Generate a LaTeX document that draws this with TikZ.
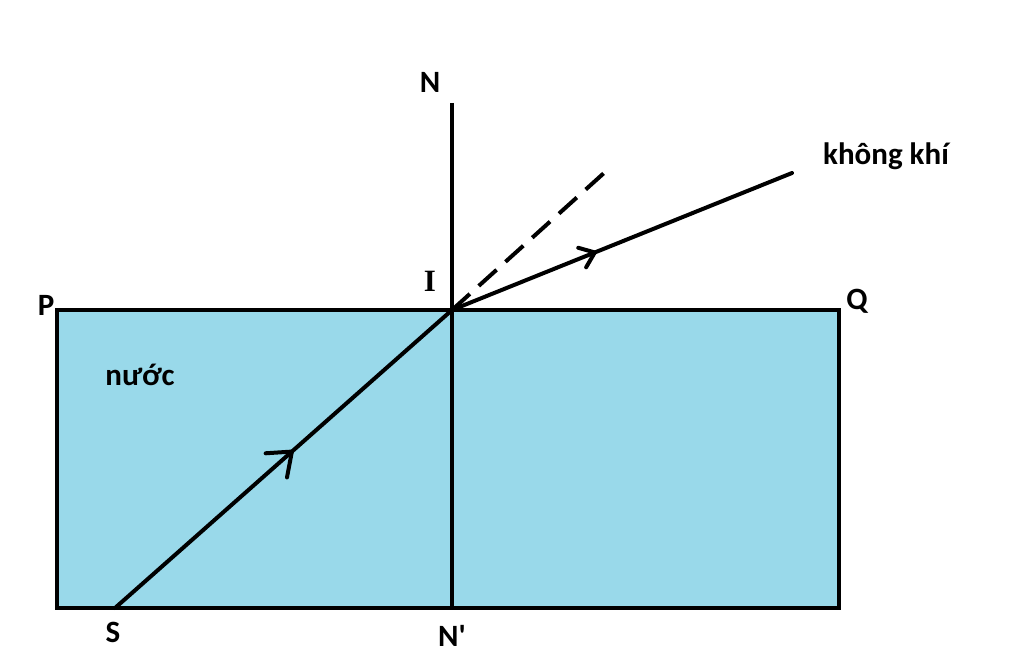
\documentclass[tikz,border=0pt]{standalone}
\usepackage{fontspec}
\setmainfont{Carlito}[Ligatures=TeXOff]
\newfontfamily\serifb{Liberation Serif}
\usetikzlibrary{decorations.markings}
\definecolor{water}{RGB}{153,217,234}
\tikzset{
  thick line/.style={line width=4pt, line cap=round},
  lbl/.style={font=\fontsize{31}{34}\selectfont\bfseries, inner sep=0pt},
  chevron/.style 2 args={postaction={decorate}, decoration={markings,
    mark=at position #1 with {\draw[line width=4pt, line cap=round, line join=miter]
      (-#2*0.8pt,#2*0.62pt) -- (0,0) -- (-#2*0.8pt,-#2*0.62pt);}}}
}
\begin{document}
\begin{tikzpicture}[x=1pt,y=-1pt]
\useasboundingbox (0,0) rectangle (1024,655);
% water
\coordinate (P0) at (57,310);
\coordinate (Q0) at (839,608);
\filldraw[fill=water, line width=4pt] (P0) rectangle (Q0);
% points
\coordinate (I) at (452,310);
\coordinate (Ntop) at (452,103);
\coordinate (Nbot) at (452,608);
\coordinate (S) at (115,608);
\coordinate (R) at (792,173);
\coordinate (D) at (604,173);
% normal
\draw[line width=4pt] (Ntop) -- (Nbot);
% rays
\draw[thick line, chevron={0.525}{26}] (S) -- (I);
\draw[thick line, chevron={0.42}{17}] (I) -- (R);
\draw[line width=4pt, dash pattern=on 24pt off 12pt] (I) -- (D);
% labels
\node[lbl] (lN) at (430,82) {N};
\node[lbl] (lI) at (430,281) {\serifb\bfseries I};
\node[lbl] (lP) at (46,305) {P};
\node[lbl] (lQ) at (857,301) {Q};
\node[lbl] (lS) at (113,632) {S};
\node[lbl] (lN2) at (452,636) {N'};
\node[lbl] (lnuoc) at (140,375) {nước};
\node[lbl] (lkk) at (886,156) {không khí};
\end{tikzpicture}
\end{document}
